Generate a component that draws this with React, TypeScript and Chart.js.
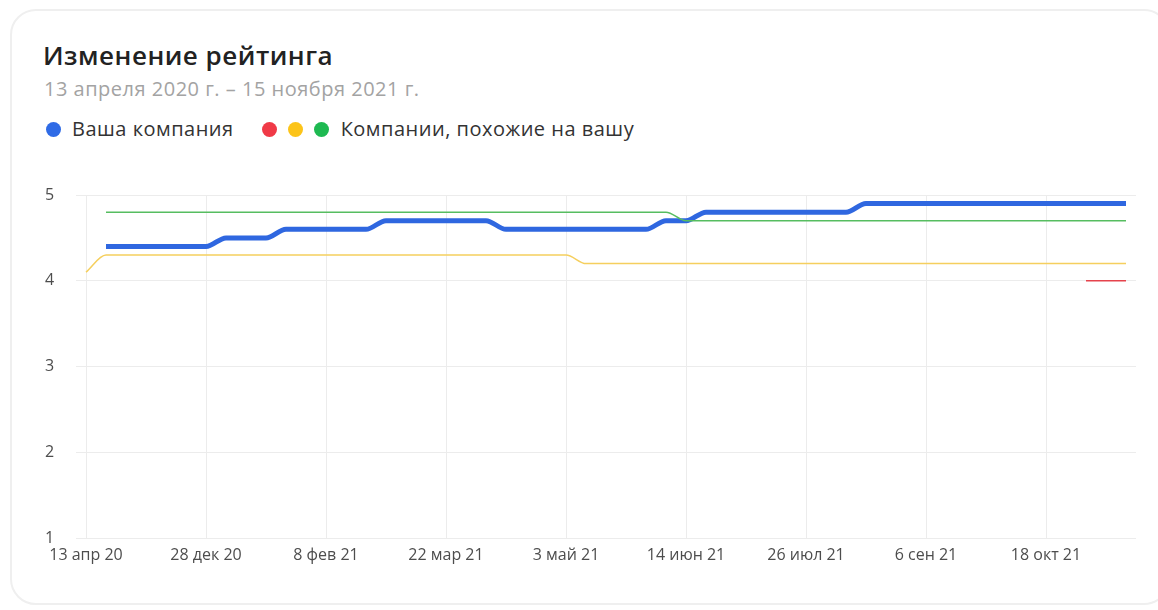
import React, { useEffect, useRef } from "react";
import { Chart, registerables } from "chart.js";

Chart.register(...registerables);

const TITLE = "Изменение рейтинга";
const SUBTITLE = "13 апреля 2020 г. – 15 ноября 2021 г.";
const LEGEND_OWN = "Ваша компания";
const LEGEND_SIMILAR = "Компании, похожие на вашу";

const weeks: string[] = [
  "13 апр 20", "23 ноя 20", "30 ноя 20", "7 дек 20", "14 дек 20", "21 дек 20",
  "28 дек 20", "4 янв 21", "11 янв 21", "18 янв 21", "25 янв 21", "1 фев 21",
  "8 фев 21", "15 фев 21", "22 фев 21", "1 мар 21", "8 мар 21", "15 мар 21",
  "22 мар 21", "29 мар 21", "5 апр 21", "12 апр 21", "19 апр 21", "26 апр 21",
  "3 май 21", "10 май 21", "17 май 21", "24 май 21", "31 май 21", "7 июн 21",
  "14 июн 21", "21 июн 21", "28 июн 21", "5 июл 21", "12 июл 21", "19 июл 21",
  "26 июл 21", "2 авг 21", "9 авг 21", "16 авг 21", "23 авг 21", "30 авг 21",
  "6 сен 21", "13 сен 21", "20 сен 21", "27 сен 21", "4 окт 21", "11 окт 21",
  "18 окт 21", "25 окт 21", "1 ноя 21", "8 ноя 21", "15 ноя 21",
];

const ownRating: (number | null)[] = [
  null, 4.4, 4.4, 4.4, 4.4, 4.4,
  4.4, 4.5, 4.5, 4.5, 4.6, 4.6,
  4.6, 4.6, 4.6, 4.7, 4.7, 4.7,
  4.7, 4.7, 4.7, 4.6, 4.6, 4.6,
  4.6, 4.6, 4.6, 4.6, 4.6, 4.7,
  4.7, 4.8, 4.8, 4.8, 4.8, 4.8,
  4.8, 4.8, 4.8, 4.9, 4.9, 4.9,
  4.9, 4.9, 4.9, 4.9, 4.9, 4.9,
  4.9, 4.9, 4.9, 4.9, 4.9,
];

const greenRating: (number | null)[] = [
  null, 4.8, 4.8, 4.8, 4.8, 4.8,
  4.8, 4.8, 4.8, 4.8, 4.8, 4.8,
  4.8, 4.8, 4.8, 4.8, 4.8, 4.8,
  4.8, 4.8, 4.8, 4.8, 4.8, 4.8,
  4.8, 4.8, 4.8, 4.8, 4.8, 4.8,
  4.7, 4.7, 4.7, 4.7, 4.7, 4.7,
  4.7, 4.7, 4.7, 4.7, 4.7, 4.7,
  4.7, 4.7, 4.7, 4.7, 4.7, 4.7,
  4.7, 4.7, 4.7, 4.7, 4.7,
];

const yellowRating: (number | null)[] = [
  4.1, 4.3, 4.3, 4.3, 4.3, 4.3,
  4.3, 4.3, 4.3, 4.3, 4.3, 4.3,
  4.3, 4.3, 4.3, 4.3, 4.3, 4.3,
  4.3, 4.3, 4.3, 4.3, 4.3, 4.3,
  4.3, 4.2, 4.2, 4.2, 4.2, 4.2,
  4.2, 4.2, 4.2, 4.2, 4.2, 4.2,
  4.2, 4.2, 4.2, 4.2, 4.2, 4.2,
  4.2, 4.2, 4.2, 4.2, 4.2, 4.2,
  4.2, 4.2, 4.2, 4.2, 4.2,
];

const redRating: (number | null)[] = [
  null, null, null, null, null, null,
  null, null, null, null, null, null,
  null, null, null, null, null, null,
  null, null, null, null, null, null,
  null, null, null, null, null, null,
  null, null, null, null, null, null,
  null, null, null, null, null, null,
  null, null, null, null, null, null,
  null, null, 4.0, 4.0, 4.0,
];

const LABEL_EVERY = 6;
const FONT = "'Open Sans', 'Noto Sans', sans-serif";
const GRID = "#ececec";

const verticalGrid = {
  id: "verticalGrid",
  beforeDatasetsDraw(chart: any) {
    const { ctx, chartArea, scales } = chart;
    const x = scales.x;
    ctx.save();
    ctx.strokeStyle = GRID;
    ctx.lineWidth = 1;
    for (let i = 0; i < weeks.length; i += LABEL_EVERY) {
      const px = Math.round(x.getPixelForValue(i)) + 0.5;
      ctx.beginPath();
      ctx.moveTo(px, chartArea.top);
      ctx.lineTo(px, chartArea.bottom);
      ctx.stroke();
    }
    ctx.restore();
  },
};

export default function App() {
  const canvasRef = useRef<HTMLCanvasElement | null>(null);

  useEffect(() => {
    if (!canvasRef.current) return;
    const thin = {
      pointRadius: 0,
      borderWidth: 1.5,
      cubicInterpolationMode: "monotone" as const,
      spanGaps: false,
      fill: false,
    };
    const chart = new Chart(canvasRef.current, {
      type: "line",
      data: {
        labels: weeks,
        datasets: [
          { label: "red", data: redRating, borderColor: "#e5434c", ...thin },
          { label: "yellow", data: yellowRating, borderColor: "#f5cf5e", ...thin },
          { label: "green", data: greenRating, borderColor: "#56bd60", ...thin },
          {
            label: LEGEND_OWN,
            data: ownRating,
            borderColor: "#2f67e0",
            borderWidth: 5,
            pointRadius: 0,
            cubicInterpolationMode: "monotone",
            fill: false,
          },
        ],
      },
      plugins: [verticalGrid],
      options: {
        animation: false,
        responsive: false,
        maintainAspectRatio: false,
        layout: { padding: { top: 15, right: 10, left: 0, bottom: 0 } },
        plugins: { legend: { display: false }, tooltip: { enabled: false } },
        scales: {
          x: {
            type: "category",
            offset: true,
            border: { display: false },
            grid: { display: false },
            ticks: {
              autoSkip: false,
              maxRotation: 0,
              minRotation: 0,
              padding: 0,
              color: "#4d4d4d",
              font: { family: FONT, size: 16 },
              callback: function (this: any, value: any, index: number) {
                return index % LABEL_EVERY === 0 ? weeks[index] : null;
              },
            },
            afterFit: (scale: any) => {
              scale.height = 32;
            },
          },
          y: {
            min: 1,
            max: 5,
            border: { display: false },
            grid: { color: GRID, drawTicks: false },
            ticks: {
              stepSize: 1,
              crossAlign: "far",
              padding: 0,
              color: "#4d4d4d",
              font: { family: FONT, size: 16 },
            },
            afterFit: (scale: any) => {
              scale.width = 31;
            },
          },
        },
      },
    });
    return () => chart.destroy();
  }, []);

  const dot = (c: string, gap: number) => (
    <span
      style={{
        display: "inline-block",
        width: 15,
        height: 15,
        borderRadius: "50%",
        background: c,
        marginRight: gap,
        flex: "none",
      }}
    />
  );

  return (
    <div
      style={{
        position: "absolute",
        left: 0,
        top: 0,
        width: 1158,
        height: 610,
        background: "#fff",
        overflow: "hidden",
        fontFamily: FONT,
      }}
    >
      <div
        style={{
          position: "absolute",
          left: 10,
          top: 9,
          width: 1160,
          height: 596,
          border: "2px solid #efefef",
          borderRadius: 26,
          boxSizing: "border-box",
        }}
      />
      <div
        style={{
          position: "absolute",
          left: 43,
          top: 37,
          fontSize: 26,
          fontWeight: 600,
          letterSpacing: 0.5,
          color: "#222",
          lineHeight: "36px",
          whiteSpace: "nowrap",
        }}
      >
        {TITLE}
      </div>
      <div
        style={{
          position: "absolute",
          left: 44,
          top: 75,
          fontSize: 20,
          letterSpacing: 0.5,
          color: "#a3a3a3",
          lineHeight: "28px",
          whiteSpace: "nowrap",
        }}
      >
        {SUBTITLE}
      </div>
      <div
        style={{
          position: "absolute",
          left: 46,
          top: 115,
          fontSize: 20,
          letterSpacing: 0.5,
          color: "#333",
          lineHeight: "28px",
          display: "flex",
          alignItems: "center",
          whiteSpace: "nowrap",
        }}
      >
        {dot("#2f6be6", 11)}
        <span>{LEGEND_OWN}</span>
        <span style={{ width: 28, flex: "none" }} />
        {dot("#f03a47", 11)}
        {dot("#fcc419", 11)}
        {dot("#1eb951", 12)}
        <span>{LEGEND_SIMILAR}</span>
      </div>
      <canvas
        ref={canvasRef}
        width={1101}
        height={390}
        style={{ position: "absolute", left: 45, top: 180, width: 1101, height: 390 }}
      />
    </div>
  );
}
